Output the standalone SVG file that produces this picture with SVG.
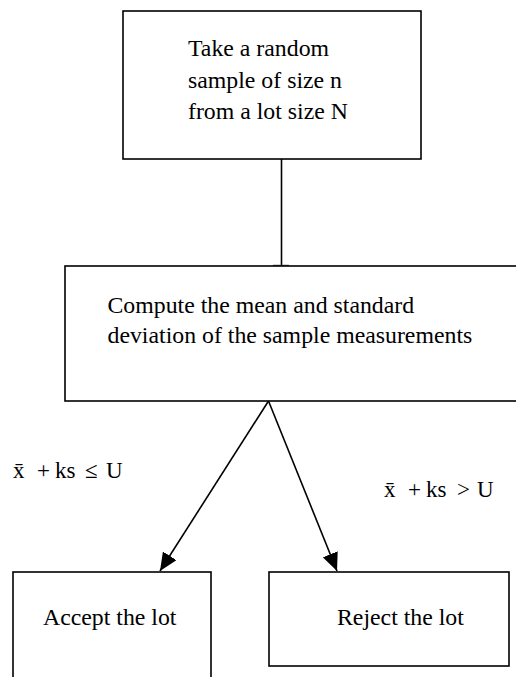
<svg xmlns="http://www.w3.org/2000/svg" width="516" height="677" viewBox="0 0 516 677">
<style>
.box{fill:#fff;stroke:#000;stroke-width:1.6}
.t{font-family:"Liberation Serif","Times New Roman",serif;font-size:23.8px;fill:#000}
.m{font-family:"Liberation Serif","DejaVu Serif",serif;font-size:23px;fill:#000}
.c{stroke:#000;stroke-width:1.6;fill:none}
</style>
<defs>
<marker id="ah" viewBox="0 0 10 10" refX="10" refY="5" markerWidth="10" markerHeight="9" markerUnits="userSpaceOnUse" orient="auto">
<path d="M0,0 L10,5 L0,10 z" fill="#000"/>
</marker>
<marker id="ah2" viewBox="0 0 18 16" refX="18" refY="8" markerWidth="18" markerHeight="16" markerUnits="userSpaceOnUse" orient="auto">
<path d="M0,0 L18,8 L0,16 z" fill="#000"/>
</marker>
</defs>
<rect width="516" height="677" fill="#fff"/>
<g id="connectors">
<line class="c" x1="281.5" y1="159" x2="281.5" y2="266"/>
<line x1="273" y1="265.5" x2="289" y2="265.5" stroke="#555" stroke-width="1.5"/>
<line class="c" x1="268.5" y1="401" x2="160" y2="571" marker-end="url(#ah2)"/>
<line class="c" x1="268.5" y1="401" x2="337" y2="571" marker-end="url(#ah2)"/>
</g>
<g id="node-sample">
<rect class="box" x="123" y="11" width="298" height="148"/>
<text class="t" x="188" y="56">Take a random</text>
<text class="t" x="188" y="88">sample of size n</text>
<text class="t" x="188" y="119">from a lot size N</text>
</g>
<g id="node-compute">
<rect class="box" x="65" y="266" width="460" height="135"/>
<text class="t" x="107.5" y="313">Compute the mean and standard</text>
<text class="t" x="107.5" y="343">deviation of the sample measurements</text>
</g>
<g id="node-accept">
<rect class="box" x="13" y="572" width="198" height="120"/>
<text class="t" x="43" y="625">Accept the lot</text>
</g>
<g id="node-reject">
<rect class="box" x="269" y="572" width="240" height="94"/>
<text class="t" x="337" y="625">Reject the lot</text>
</g>
<g id="labels">
<text class="m" y="478"><tspan x="13">x̄</tspan><tspan x="37">+</tspan><tspan x="55">ks</tspan><tspan x="85">≤</tspan><tspan x="106">U</tspan></text>
<text class="m" y="497"><tspan x="384">x̄</tspan><tspan x="408">+</tspan><tspan x="426">ks</tspan><tspan x="457">&gt;</tspan><tspan x="477">U</tspan></text>
</g>
</svg>
